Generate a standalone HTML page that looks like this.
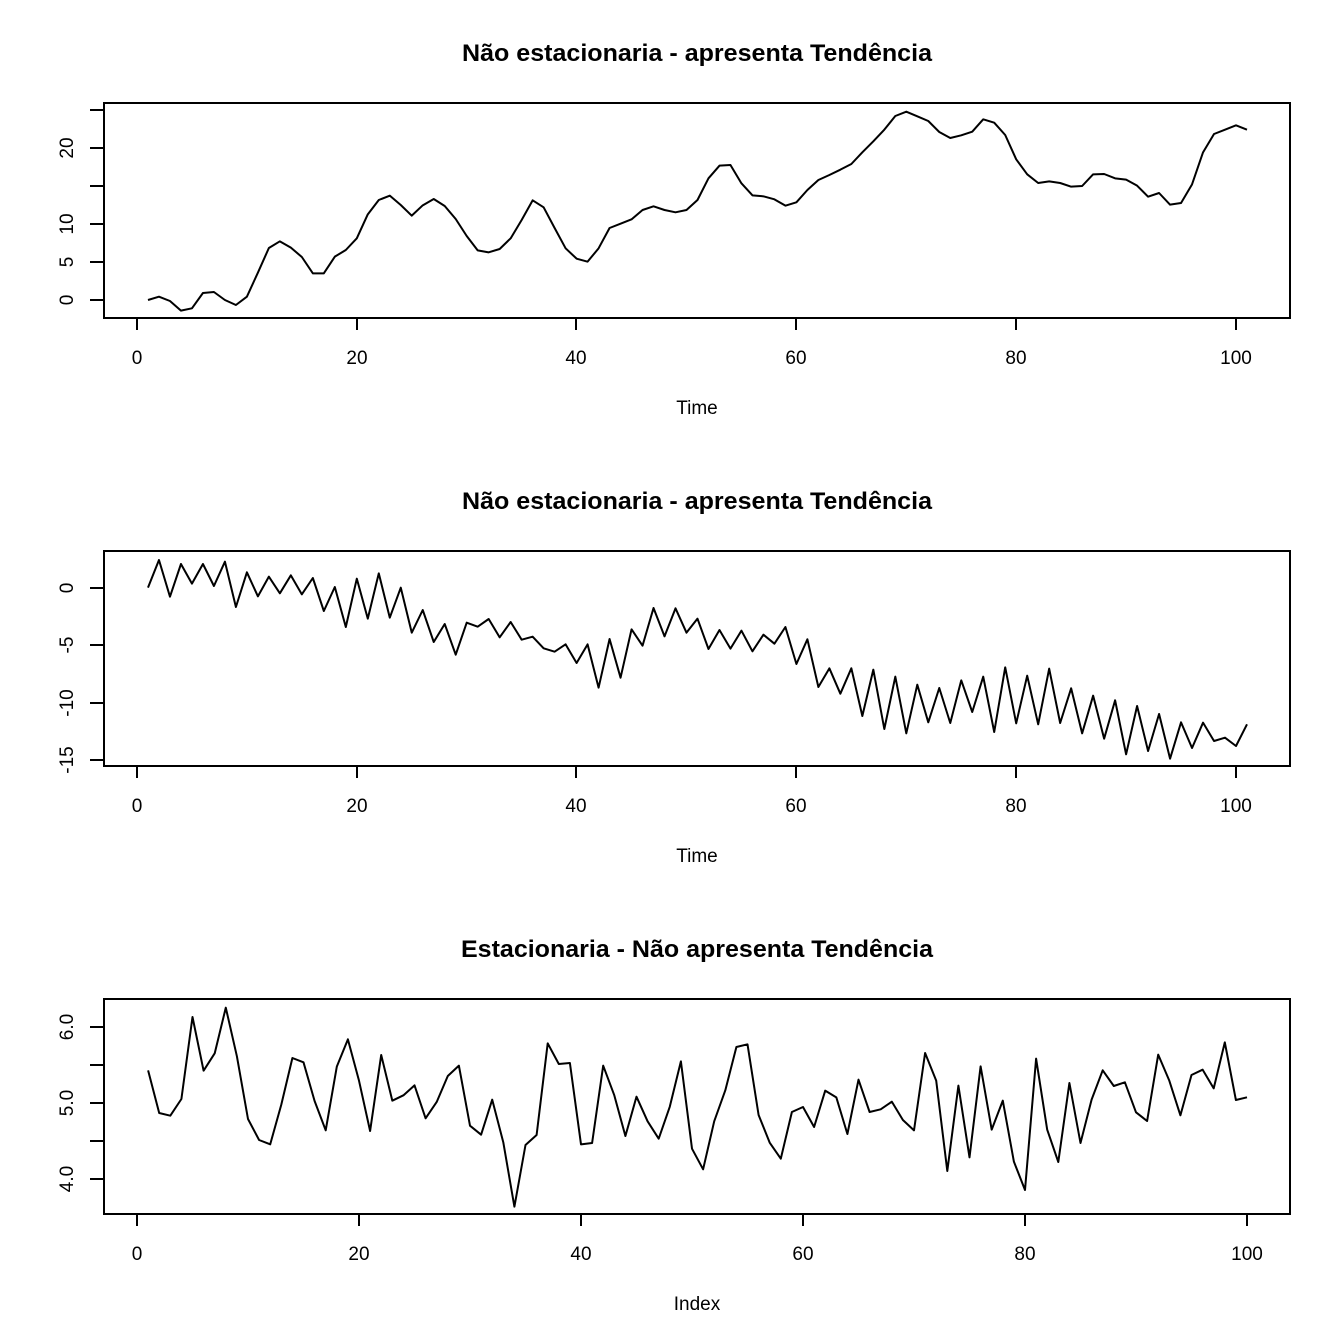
<!DOCTYPE html>
<html><head><meta charset="utf-8"><style>
html,body{margin:0;padding:0;background:#fff}
svg{display:block}
text{font-family:"Liberation Sans",sans-serif;fill:#000}
.t{font-weight:bold;font-size:24px}
.l{font-size:19px}
.ln{fill:none;stroke:#000;stroke-width:2;vector-effect:non-scaling-stroke;stroke-linejoin:round}
</style></head><body>
<svg width="1344" height="1344" viewBox="0 0 1344 1344" xmlns="http://www.w3.org/2000/svg">
<rect width="1344" height="1344" fill="#fff"/>
<g stroke="#000" stroke-width="2" fill="none">
<rect x="104" y="103" width="1186" height="215"/>
<rect x="104" y="551" width="1186" height="215"/>
<rect x="104" y="999" width="1186" height="215"/>
<path d="M137 318v12M357 318v12M576 318v12M796 318v12M1016 318v12M1236 318v12"/>
<path d="M90 300h14M90 262h14M90 224h14M90 186h14M90 148h14M90 110h14"/>
<path d="M137 766v12M357 766v12M576 766v12M796 766v12M1016 766v12M1236 766v12"/>
<path d="M90 588h14M90 645h14M90 703h14M90 760h14"/>
<path d="M137 1214v12M359 1214v12M581 1214v12M803 1214v12M1025 1214v12M1247 1214v12"/>
<path d="M90 1027h14M90 1065h14M90 1103h14M90 1141h14M90 1179h14"/>
</g>
<text class="t" x="697" y="61" text-anchor="middle" textLength="470" lengthAdjust="spacingAndGlyphs">Não estacionaria - apresenta Tendência</text>
<text class="t" x="697" y="509" text-anchor="middle" textLength="470" lengthAdjust="spacingAndGlyphs">Não estacionaria - apresenta Tendência</text>
<text class="t" x="697" y="957" text-anchor="middle" textLength="472" lengthAdjust="spacingAndGlyphs">Estacionaria - Não apresenta Tendência</text>
<g class="l" text-anchor="middle">
<text x="137" y="364">0</text><text x="357" y="364">20</text><text x="576" y="364">40</text><text x="796" y="364">60</text><text x="1016" y="364">80</text><text x="1236" y="364">100</text>
<text x="697" y="414">Time</text>
<text x="137" y="812">0</text><text x="357" y="812">20</text><text x="576" y="812">40</text><text x="796" y="812">60</text><text x="1016" y="812">80</text><text x="1236" y="812">100</text>
<text x="697" y="862">Time</text>
<text x="137" y="1260">0</text><text x="359" y="1260">20</text><text x="581" y="1260">40</text><text x="803" y="1260">60</text><text x="1025" y="1260">80</text><text x="1247" y="1260">100</text>
<text x="697" y="1310">Index</text>
<text transform="translate(73,300) rotate(-90)">0</text>
<text transform="translate(73,262) rotate(-90)">5</text>
<text transform="translate(73,224) rotate(-90)">10</text>
<text transform="translate(73,148) rotate(-90)">20</text>
<text transform="translate(73,588) rotate(-90)">0</text>
<text transform="translate(73,645) rotate(-90)">-5</text>
<text transform="translate(73,703) rotate(-90)">-10</text>
<text transform="translate(73,760) rotate(-90)">-15</text>
<text transform="translate(73,1179) rotate(-90)">4.0</text>
<text transform="translate(73,1103) rotate(-90)">5.0</text>
<text transform="translate(73,1027) rotate(-90)">6.0</text>
</g>
<g transform="translate(137,100) scale(10.99,0.33333)">
<polyline class="ln" points="1,600 2,590 3,603 4,632 5,625 6,579 7,576 8,600 9,615 10,590 11,518 12,444 13,424 14,443 15,471 16,520 17,520 18,470 19,450 20,415 21,343 22,300 23,287 24,315 25,347 26,316 27,297 28,318 29,357 30,408 31,451 32,457 33,447 34,415 35,360 36,301 37,322 38,384 39,445 40,476 41,485 42,445 43,384 44,371 45,358 46,330 47,319 48,330 49,337 50,330 51,300 52,235 53,197 54,195 55,250 56,286 57,289 58,298 59,317 60,307 61,270 62,240 63,225 64,209 65,192 66,157 67,124 68,89 69,48 70,35 71,49 72,63 73,96 74,114 75,106 76,95 77,58 78,68 79,105 80,178 81,223 82,249 83,244 84,249 85,260 86,258 87,223 88,222 89,235 90,239 91,257 92,290 93,279 94,314 95,309 96,253 97,157 98,102 99,89 100,76 101,89"/>
</g>
<g transform="translate(137,550) scale(10.99,0.33333)">
<polyline class="ln" points="1,113 2,30 3,140 4,42 5,101 6,42 7,108 8,35 9,171 10,67 11,139 12,80 13,130 14,76 15,133 16,84 17,183 18,111 19,231 20,86 21,206 22,70 23,203 24,113 25,248 26,180 27,276 28,222 29,314 30,218 31,230 32,207 33,262 34,216 35,269 36,260 37,295 38,305 39,283 40,339 41,283 42,413 43,267 44,383 45,238 46,287 47,174 48,259 49,175 50,248 51,206 52,297 53,240 54,296 55,242 56,304 57,254 58,281 59,231 60,342 61,268 62,411 63,355 64,431 65,355 66,498 67,359 68,537 69,380 70,550 71,404 72,517 73,414 74,519 75,391 76,486 77,380 78,546 79,352 80,520 81,377 82,523 83,356 84,519 85,415 86,550 87,437 88,566 89,451 90,613 91,468 92,603 93,492 94,626 95,517 96,594 97,518 98,573 99,563 100,588 101,523"/>
</g>
<g transform="translate(137,998) scale(11.1,0.33333)">
<polyline class="ln" points="1,217 2,345 3,353 4,303 5,57 6,218 7,166 8,29 9,175 10,363 11,426 12,439 13,320 14,180 15,193 16,309 17,397 18,206 19,124 20,248 21,399 22,171 23,308 24,292 25,262 26,361 27,312 28,234 29,203 30,383 31,410 32,305 33,433 34,626 35,441 36,411 37,136 38,198 39,195 40,439 41,435 42,203 43,292 44,414 45,296 46,370 47,422 48,326 49,190 50,452 51,514 52,370 53,277 54,147 55,139 56,351 57,434 58,482 59,342 60,327 61,387 62,278 63,298 64,408 65,245 66,342 67,334 68,311 69,366 70,397 71,165 72,248 73,519 74,263 75,478 76,205 77,395 78,308 79,491 80,576 81,182 82,395 83,492 84,255 85,435 86,305 87,217 88,264 89,253 90,343 91,369 92,170 93,248 94,352 95,231 96,215 97,271 98,133 99,306 100,298"/>
</g>
</svg>
</body></html>
